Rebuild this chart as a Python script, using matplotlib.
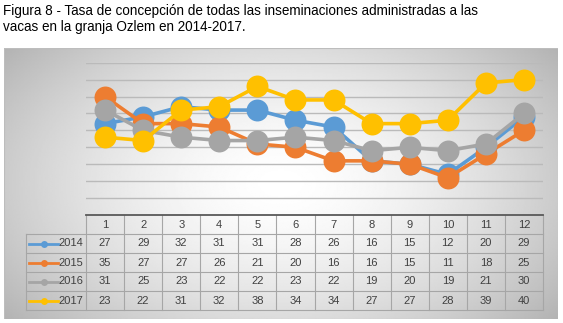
import matplotlib
matplotlib.use("Agg")
import matplotlib.pyplot as plt
import numpy as np
from matplotlib.transforms import blended_transform_factory

# data
months = [1, 2, 3, 4, 5, 6, 7, 8, 9, 10, 11, 12]
years = ["2014", "2015", "2016", "2017"]
rate_2014 = [27, 29, 32, 31, 31, 28, 26, 16, 15, 12, 20, 29]
rate_2015 = [35, 27, 27, 26, 21, 20, 16, 16, 15, 11, 18, 25]
rate_2016 = [31, 25, 23, 22, 22, 23, 22, 19, 20, 19, 21, 30]
rate_2017 = [23, 22, 31, 32, 38, 34, 34, 27, 27, 28, 39, 40]
series = [rate_2014, rate_2015, rate_2016, rate_2017]
colors = ["#5B9BD5", "#ED7D31", "#A5A5A5", "#FFC000"]

W, H = 563, 323
fig = plt.figure(figsize=(W / 100, H / 100), dpi=100)
fig.patch.set_facecolor("white")

# title
title = ("Figura 8 - Tasa de concepción de todas las inseminaciones administradas a las\n"
         "vacas en la granja Ozlem en 2014-2017.")
fig.text(3 / W, 1 - 4 / H, title, ha="left", va="top", fontsize=9.75,
         family="Liberation Sans", color="#000000", linespacing=1.2)

# chart area with radial grey gradient
cx0, cx1, cy0, cy1 = 4, 558, 48, 319
bg = fig.add_axes([cx0 / W, 1 - cy1 / H, (cx1 - cx0) / W, (cy1 - cy0) / H])
gx, gy = np.meshgrid(np.linspace(-1, 1, 400), np.linspace(-1, 1, 200))
r = np.sqrt((gx * 0.95) ** 2 + (gy * 0.75) ** 2)
shade = 1.0 - 0.22 * np.clip(r, 0, 1.3) ** 1.6
bg.imshow(shade, cmap="gray", vmin=0, vmax=1, aspect="auto",
          extent=[0, 1, 0, 1], interpolation="bilinear")
bg.set_axis_off()
bg.add_patch(plt.Rectangle((0, 0), 1, 1, transform=bg.transAxes, fill=False,
                           edgecolor="#bdbdbd", lw=0.8))

# plot area
px0, px1, py0, py1 = 86, 543, 62.7, 215
ax = fig.add_axes([px0 / W, 1 - py1 / H, (px1 - px0) / W, (py1 - py0) / H])
ax.set_facecolor("none")
ax.set_xlim(0.5, 12.5)
ax.set_ylim(0, 45)
for y in range(5, 50, 5):
    ax.axhline(y, color="#bababa", lw=1.0, zorder=1)
for s in ax.spines.values():
    s.set_visible(False)
ax.set_xticks([])
ax.set_yticks([])

for vals, c in zip(series, colors):
    ax.plot(months, vals, color=c, lw=2.6, marker="o", markersize=15.8,
            markeredgewidth=0, zorder=3, clip_on=False)

# data table under the axis
tr = blended_transform_factory(ax.transData, ax.transAxes)
row_h = 19 / (py1 - py0)
unit = (px1 - px0) / 12
lab_left = 0.5 - (px0 - 26) / unit
grid_c = "#a6a6a6"
font = dict(family="Liberation Sans", fontsize=8, color="#404040")
n_rows = len(years) + 1
bottom = -n_rows * row_h

# vertical and horizontal table lines
for k in range(13):
    x = 0.5 + k
    ax.plot([x, x], [0, bottom], color=grid_c, lw=0.8, transform=tr, clip_on=False)
ax.plot([lab_left, lab_left], [-row_h, bottom], color=grid_c, lw=0.8,
        transform=tr, clip_on=False)
for j in range(1, n_rows + 1):
    y = -j * row_h
    ax.plot([lab_left, 12.5], [y, y], color=grid_c, lw=0.8, transform=tr, clip_on=False)
ax.plot([0.5, 12.5], [0, 0], color="#595959", lw=1.3, transform=tr, clip_on=False)

for m in months:
    ax.text(m, -0.5 * row_h, str(m), ha="center", va="center", transform=tr, **font)

key_x0 = 0.5 - (px0 - 29) / unit
key_x1 = 0.5 - (px0 - 58) / unit
txt_x = 0.5 - (px0 - 83.5) / unit
for i, (yr, vals, c) in enumerate(zip(years, series, colors)):
    yc = -(i + 1.5) * row_h
    ax.plot([key_x0, key_x1], [yc, yc], color=c, lw=2.0, transform=tr, clip_on=False)
    ax.plot([(key_x0 + key_x1) / 2], [yc], color=c, marker="o", markersize=5,
            markeredgewidth=0, transform=tr, clip_on=False)
    ax.text(txt_x, yc, yr, ha="right", va="center", transform=tr, **font)
    for m, v in zip(months, vals):
        ax.text(m, yc, str(v), ha="center", va="center", transform=tr, **font)

fig.savefig("out.png", dpi=100)
